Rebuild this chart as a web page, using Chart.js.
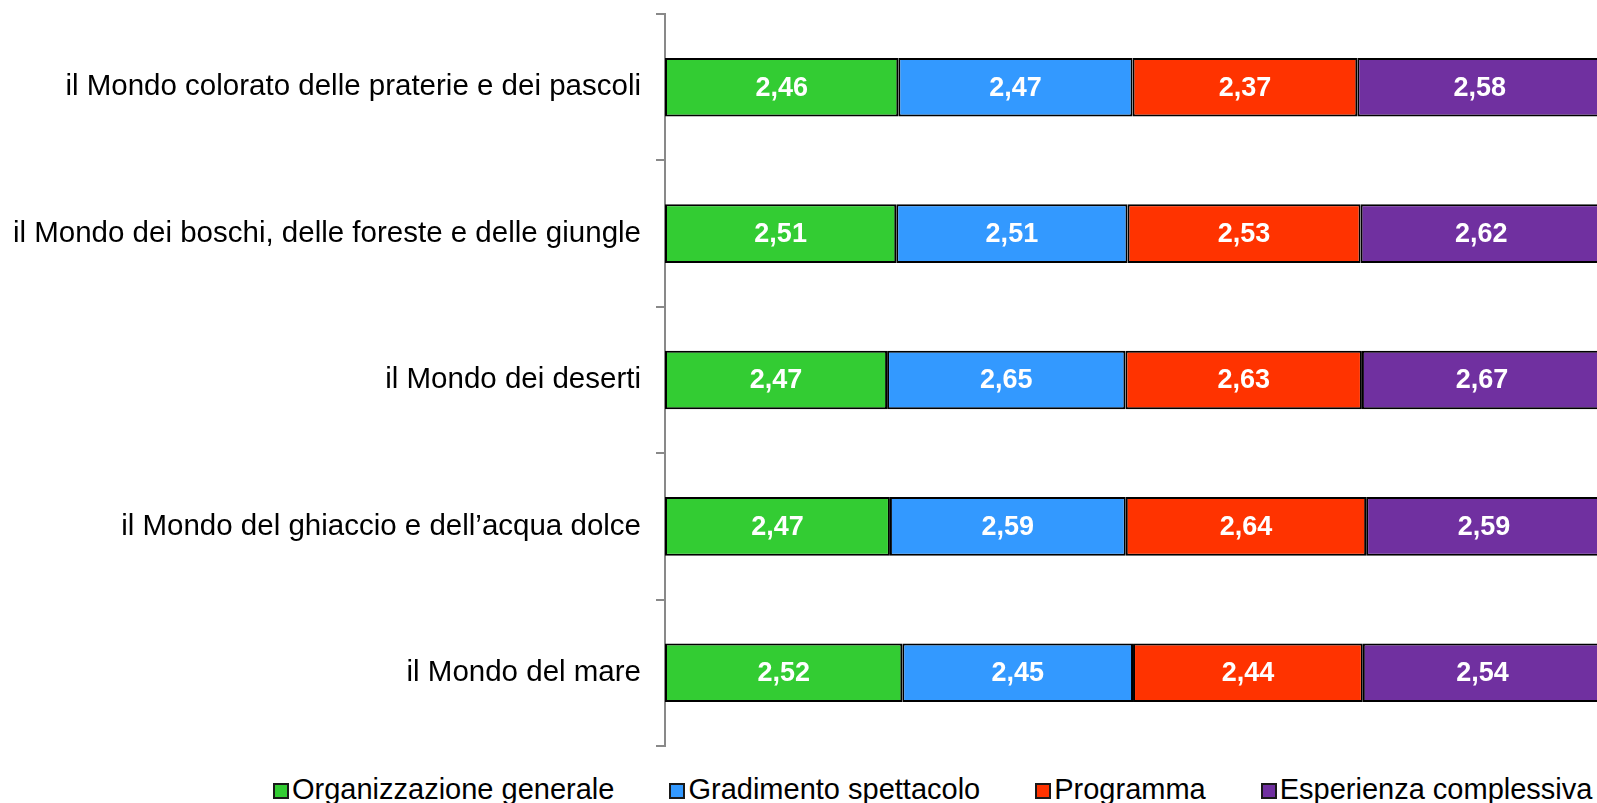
<!DOCTYPE html>
<html>
<head>
<meta charset="utf-8">
<script src="https://cdn.jsdelivr.net/npm/chart.js@4"></script>
<style>
  html, body { margin: 0; padding: 0; background: #fff; overflow: hidden; }
  body { width: 1597px; height: 803px; position: relative; font-family: "Liberation Sans", Arial, sans-serif; }
  #wrap { position: absolute; left: 0; top: 0; width: 1602px; height: 760px; }
  #legenda { position: absolute; left: 273px; top: 774px; display: flex; font-size: 29px; line-height: 30px; color: #000; white-space: nowrap; }
  .voce { display: flex; align-items: center; margin-right: 55px; }
  .quadrato { width: 12px; height: 12px; border: 2px solid #1a1a1a; margin-right: 3px; margin-top: 4px; }
</style>
</head>
<body>
<div id="wrap"><canvas id="grafik"></canvas></div>
<div id="legenda"></div>
<script>
// Kategoriyalar va qiymatlar
const mondi = [
  'il Mondo colorato delle praterie e dei pascoli',
  'il Mondo dei boschi, delle foreste e delle giungle',
  'il Mondo dei deserti',
  'il Mondo del ghiaccio e dell\u2019acqua dolce',
  'il Mondo del mare'
];
const serieNomi = ['Organizzazione generale', 'Gradimento spettacolo', 'Programma', 'Esperienza complessiva'];
const organizzazione = [2.46, 2.51, 2.47, 2.47, 2.52];
const gradimento = [2.47, 2.51, 2.65, 2.59, 2.45];
const programma = [2.37, 2.53, 2.63, 2.64, 2.44];
const esperienza = [2.58, 2.62, 2.67, 2.59, 2.54];
const ranglar = ['#33cc33', '#3399ff', '#ff3300', '#7030a0'];

const seriyalar = [organizzazione, gradimento, programma, esperienza];

// 100% ga normallashtirish (har qator yig'indisi)
const jami = mondi.map((_, i) => seriyalar.reduce((s, arr) => s + arr[i], 0));

const datasets = seriyalar.map((arr, k) => ({
  label: serieNomi[k],
  data: arr.map((v, i) => v / jami[i] * 100),
  qiymat: arr,
  backgroundColor: ranglar[k],
  borderColor: '#000',
  borderWidth: 2,
  borderSkipped: false,
  categoryPercentage: 0.8,
  barPercentage: 0.5
}));

// Qiymatlarni bar ichiga yozish
const yozuvPlagin = {
  id: 'yozuv',
  afterDatasetsDraw(chart) {
    const ctx = chart.ctx;
    ctx.save();
    ctx.fillStyle = '#fff';
    ctx.font = 'bold 27px "Liberation Sans", Arial, sans-serif';
    ctx.textAlign = 'center';
    ctx.textBaseline = 'middle';
    chart.data.datasets.forEach((ds, k) => {
      chart.getDatasetMeta(k).data.forEach((bar, i) => {
        const x = (bar.x + bar.base) / 2;
        ctx.fillText(ds.qiymat[i].toFixed(2).replace('.', ','), x, bar.y + 1);
      });
    });
    ctx.restore();
  }
};

const ctx = document.getElementById('grafik').getContext('2d');
new Chart(ctx, {
  type: 'bar',
  data: { labels: mondi, datasets: datasets },
  plugins: [yozuvPlagin],
  options: {
    indexAxis: 'y',
    responsive: true,
    maintainAspectRatio: false,
    animation: false,
    layout: { padding: { top: 14, bottom: 14, left: 0, right: 0 } },
    plugins: {
      legend: { display: false },
      tooltip: { enabled: false }
    },
    scales: {
      x: { stacked: true, display: false, min: 0, max: 100 },
      y: {
        stacked: true,
        afterFit: (s) => {
          s.width = 665;
          s.paddingTop = 0;
          s.paddingBottom = 0;
        },
        grid: { drawOnChartArea: false, tickLength: 9, color: '#898989', lineWidth: 2 },
        border: { color: '#898989', width: 2 },
        ticks: {
          color: '#000',
          padding: 15,
          font: { family: '"Liberation Sans", Arial, sans-serif', size: 29.5 }
        }
      }
    }
  }
});

// Legenda (HTML)
const legenda = document.getElementById('legenda');
serieNomi.forEach((nom, k) => {
  const v = document.createElement('div');
  v.className = 'voce';
  const q = document.createElement('div');
  q.className = 'quadrato';
  q.style.background = ranglar[k];
  const t = document.createElement('span');
  t.textContent = nom;
  v.appendChild(q);
  v.appendChild(t);
  legenda.appendChild(v);
});
</script>
</body>
</html>
